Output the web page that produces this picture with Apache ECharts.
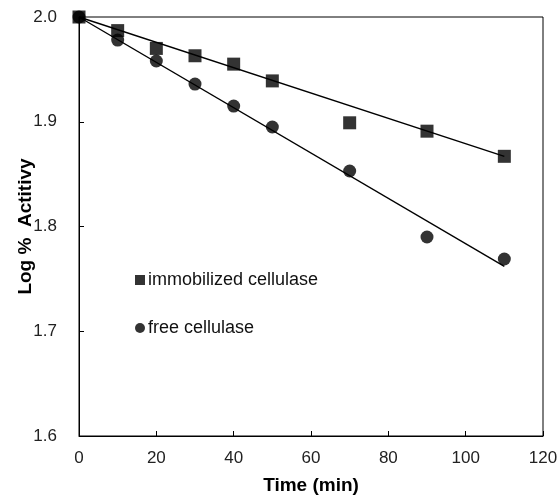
<!DOCTYPE html>
<html>
<head>
<meta charset="utf-8">
<script src="https://cdn.jsdelivr.net/npm/echarts@6/dist/echarts.min.js"></script>
<style>html,body{margin:0;padding:0;background:#fff}#c{width:560px;height:497px}</style>
</head>
<body>
<div id="c"></div>
<script>
var timeMin = [0, 10, 20, 30, 40, 50, 70, 90, 110];
var immobilized = [2.000, 1.987, 1.970, 1.963, 1.955, 1.939, 1.899, 1.891, 1.867];
var free = [2.000, 1.978, 1.958, 1.936, 1.915, 1.895, 1.853, 1.790, 1.769];
var trendImmX = [0, 110];
var trendImmY = [2.000, 1.867];
var trendFreeX = [0, 110];
var trendFreeY = [2.000, 1.762];
var xTicks = [0, 20, 40, 60, 80, 100, 120];
var yTicks = ['1.6', '1.7', '1.8', '1.9', '2.0'];

function pairs(xs, ys) { return xs.map(function (x, i) { return [x, ys[i]]; }); }

var chart = echarts.init(document.getElementById('c'), null, {renderer: 'canvas'});
var font = 'Liberation Sans, Arial, sans-serif';
chart.setOption({
  animation: false,
  backgroundColor: '#fff',
  grid: {left: 79, right: 17, top: 17, bottom: 61, show: true, borderColor: '#000', borderWidth: 1,
    outerBoundsMode: 'none', containLabel: false},
  legend: {
    orient: 'vertical', left: 130, top: 266, itemWidth: 10, itemHeight: 10, itemGap: 30,
    data: [{name: 'immobilized cellulase', icon: 'rect'}, {name: 'free cellulase', icon: 'circle'}],
    textStyle: {fontFamily: font, fontSize: 18, color: '#111', padding: [0, 0, 0, -2]}
  },
  xAxis: {
    type: 'value', min: xTicks[0], max: xTicks[xTicks.length - 1], interval: 20,
    name: 'Time (min)', nameLocation: 'middle', nameGap: 40, nameMoveOverlap: false,
    nameTextStyle: {fontFamily: font, fontSize: 19, fontWeight: 'bold', color: '#000'},
    axisLine: {lineStyle: {color: '#000', width: 1}},
    axisTick: {inside: true, length: 5, lineStyle: {color: '#000'}},
    axisLabel: {fontFamily: font, fontSize: 17, color: '#222', margin: 14},
    splitLine: {show: false}
  },
  yAxis: {
    type: 'value', min: 1.6, max: 2.0, interval: 0.1,
    name: 'Log %  Actitivy', nameLocation: 'middle', nameGap: 44, nameMoveOverlap: false,
    nameTextStyle: {fontFamily: font, fontSize: 19, fontWeight: 'bold', color: '#000'},
    axisLine: {lineStyle: {color: '#000', width: 1}},
    axisTick: {inside: true, length: 5, lineStyle: {color: '#000'}},
    axisLabel: {fontFamily: font, fontSize: 17, color: '#222', margin: 22,
      formatter: function (v) { return v.toFixed(1); }},
    splitLine: {show: false}
  },
  series: [
    {name: 'trendImm', type: 'line', data: pairs(trendImmX, trendImmY), symbol: 'none',
      lineStyle: {color: '#000', width: 1.4}, silent: true, z: 1},
    {name: 'trendFree', type: 'line', data: pairs(trendFreeX, trendFreeY), symbol: 'none',
      lineStyle: {color: '#000', width: 1.4}, silent: true, z: 1},
    {name: 'immobilized cellulase', type: 'scatter', data: pairs(timeMin, immobilized),
      symbol: 'rect', symbolSize: 13, itemStyle: {color: '#000'}, z: 3},
    {name: 'free cellulase', type: 'scatter', data: pairs(timeMin, free),
      symbol: 'circle', symbolSize: 13, itemStyle: {color: '#000'}, z: 3}
  ]
});
</script>
</body>
</html>
